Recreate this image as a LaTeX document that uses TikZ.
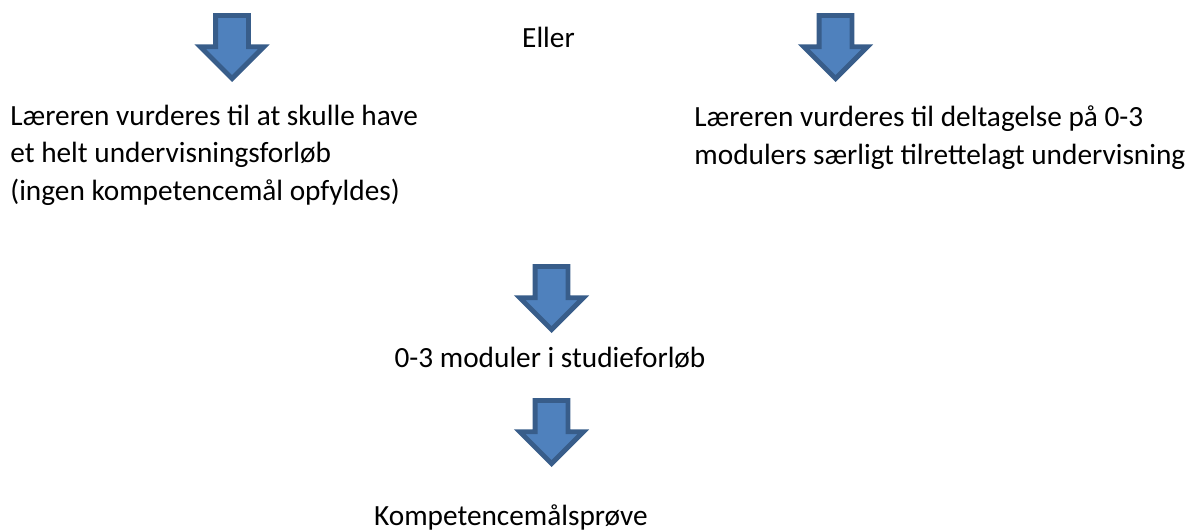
\documentclass[tikz,border=0pt]{standalone}
\usepackage{fontspec}
\setmainfont{Carlito}
\usetikzlibrary{shapes.arrows}
\definecolor{pilfyld}{HTML}{4F81BD}
\definecolor{pilkant}{HTML}{385D8A}
\begin{document}
\begin{tikzpicture}[x=0.5pt, y=-0.5pt, font=\fontsize{14.65}{18.75}\selectfont,
		pil/.style={single arrow, rotate=-90, draw=pilkant, fill=pilfyld, line width=2.4pt, minimum height=31.6pt, minimum width=29.5pt, single arrow head extend=7.75pt, single arrow tip angle=90, single arrow head indent=0pt, inner xsep=0pt, inner ysep=7pt, outer sep=0pt},
		tekst/.style={inner sep=0pt, align=left}]
			\useasboundingbox (0,0) rectangle (1204,531);
			\node[pil, anchor=tail] (p1) at (232,15.4) {};
			\node[pil, anchor=tail] (p2) at (835.5,15.4) {};
			\node[tekst, anchor=base] (eller) at (548.5,47) {Eller};
			\node[tekst, anchor=base west] (venstre) at (10,200) {Læreren vurderes til at skulle have\\et helt undervisningsforløb\\(ingen kompetencemål opfyldes)};
			\node[tekst, anchor=base west] (hoejre) at (694,164) {Læreren vurderes til deltagelse på 0-3\\modulers særligt tilrettelagt undervisning};
			\node[pil, anchor=tail] (p3) at (551.5,266.4) {};
			\node[tekst, anchor=base] (moduler) at (550,367) {0-3 moduler i studieforløb};
			\node[pil, anchor=tail] (p4) at (551.5,400.4) {};
			\node[tekst, anchor=base east] (proeve) at (648,525) {Kompetencemålsprøve};
		\end{tikzpicture}
\end{document}
